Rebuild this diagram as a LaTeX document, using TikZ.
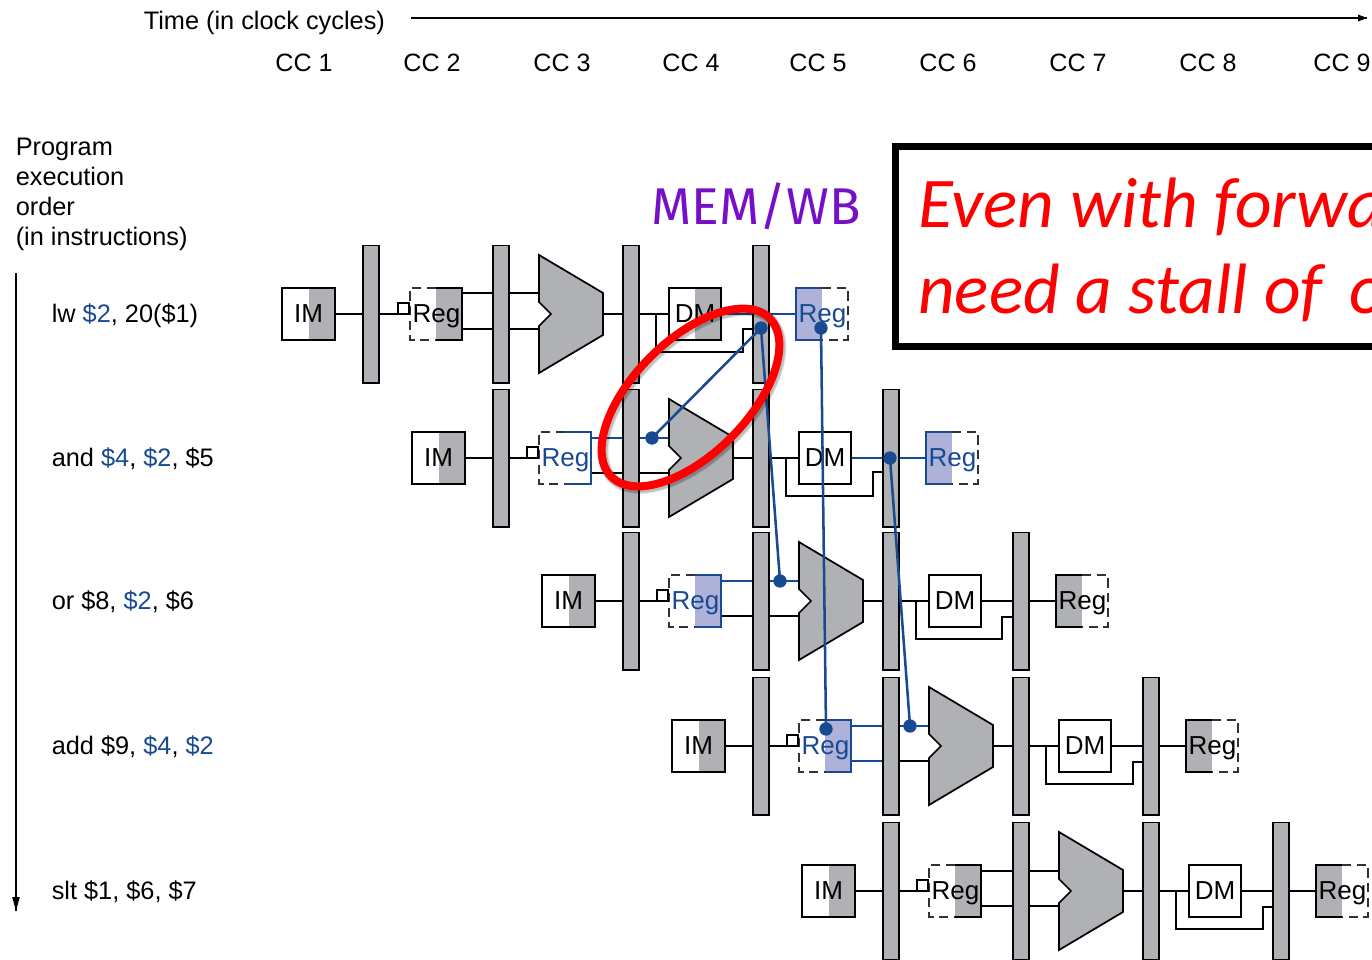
\documentclass[tikz,border=0pt]{standalone}
\usepackage{fontspec}
\setmainfont{Liberation Sans}
\newfontfamily\callout{Carlito}
\newfontfamily\handf{Fira Sans}
\definecolor{bargray}{RGB}{176,177,181}
\definecolor{wireblue}{RGB}{24,74,146}
\definecolor{regblue}{RGB}{174,178,216}
\definecolor{memwb}{RGB}{118,16,200}
\definecolor{dashgray}{RGB}{50,50,50}
\tikzset{
  wire/.style={line width=1.9pt,black},
  bwire/.style={line width=1.8pt,wireblue},
  fwd/.style={line width=1.9pt,wireblue},
  outline/.style={draw=black,line width=1.3pt},
  dashline/.style={draw=dashgray,line width=1.2pt,dash pattern=on 7pt off 4pt},
  unit/.style={font=\fontsize{19.5}{22}\selectfont,inner sep=0pt,anchor=base},
  lab/.style={font=\fontsize{19}{22}\selectfont,inner sep=0pt,anchor=base west},
  cclab/.style={font=\fontsize{18.8}{22}\selectfont,inner sep=0pt,anchor=base},
  calloutt/.style={font=\callout\itshape\fontsize{53.5}{60}\selectfont,text=red,inner sep=0pt,anchor=base west},
  dotp/.style={circle,fill=wireblue,draw=none,minimum size=10pt,inner sep=0pt},
}
\newcommand{\pbar}[2]{\path[fill=bargray,outline] (#1,#2-68.5) rectangle ++(16,137.5);}
\newcommand{\imbox}[3]{%
  \path[fill=bargray] (#1+27,#2-26) rectangle (#1+53,#2+26);
  \draw[outline] (#1,#2-26) rectangle (#1+53,#2+26);
  \node[unit] (#3) at (#1+26.5,#2+8.5) {IM};}
\newcommand{\regid}[5]{%
  \path[fill=#3] (#1+26,#2-26) rectangle (#1+52,#2+26);
  \draw[dashline] (#1+26,#2-26) -- (#1,#2-26) -- (#1,#2+26) -- (#1+26,#2+26);
  \draw[draw=#4,line width=1.3pt] (#1+26,#2-26) -- (#1+52,#2-26) -- (#1+52,#2+26) -- (#1+26,#2+26);
  \draw[outline] (#1,#2) -- (#1-12,#2) -- (#1-12,#2-11) -- (#1-1,#2-11) -- (#1-1,#2);
  \node[unit,text=#4] (#5) at (#1+26.5,#2+8.5) {Reg};}
\newcommand{\regwb}[5]{%
  \path[fill=#3] (#1,#2-26) rectangle (#1+26,#2+26);
  \draw[dashline] (#1+26,#2-26) -- (#1+52,#2-26) -- (#1+52,#2+26) -- (#1+26,#2+26);
  \draw[draw=#4,line width=1.3pt] (#1+26,#2-26) -- (#1,#2-26) -- (#1,#2+26) -- (#1+26,#2+26);
  \node[unit,text=#4] (#5) at (#1+26.5,#2+8.5) {Reg};}
\newcommand{\dmbox}[3]{%
  \draw[outline,fill=white] (#1,#2-26) rectangle (#1+52,#2+26);
  \node[unit] (#3) at (#1+26,#2+8.5) {DM};}
\newcommand{\alu}[3]{%
  \draw[outline,fill=bargray,line join=miter] (#1,#2-59) -- (#1+64,#2-21) -- (#1+64,#2+21) -- (#1,#2+59) -- (#1,#2+12) -- (#1+12,#2) -- (#1,#2-12) -- cycle;
  \coordinate (#3) at (#1+32,#2);}
\begin{document}
\begin{tikzpicture}[x=0.75pt,y=-0.75pt]
\useasboundingbox (0,0) rectangle (1372,960);
\begin{scope}
\clip (0,0) rectangle (1372,960);

% --- axis and headings
\node[lab] (tlabel) at (143.5,29) {Time (in clock cycles)};
\coordinate (tstart) at (411,18);
\coordinate (tend) at (1367,18);
\draw[line width=0.9pt] (tstart) -- (tend);
\path[fill=black] (1367,18) -- (1358,14.5) -- (1358,21.5) -- cycle;
\foreach \nm/\x/\t in {c1/304/CC 1,c2/432/CC 2,c3/562/CC 3,c4/691/CC 4,c5/818/CC 5,c6/948/CC 6,c7/1078/CC 7,c8/1208/CC 8,c9/1342/CC 9}
  \node[cclab] (\nm) at (\x,71) {\t};
\node[lab] (p1) at (15.5,155) {Program};
\node[lab] (p2) at (15.5,185) {execution};
\node[lab] (p3) at (15.5,215) {order};
\node[lab] (p4) at (15.5,245) {(in instructions)};
\coordinate (oa) at (16,273);
\coordinate (ob) at (16,911);
\draw[line width=0.9pt] (oa) -- (ob);
\path[fill=black] (16,911) -- (12.2,897) -- (19.8,897) -- cycle;

\newcommand{\bl}[1]{\textcolor{wireblue}{#1}}
\node[lab] (i1) at (51.5,322) {lw \bl{\$2}, 20(\$1)};
\node[lab] (i2) at (51.5,466) {and \bl{\$4}, \bl{\$2}, \$5};
\node[lab] (i3) at (51.5,609) {or \$8, \bl{\$2}, \$6};
\node[lab] (i4) at (51.5,754) {add \$9, \bl{\$4}, \bl{\$2}};
\node[lab] (i5) at (51.5,899) {slt \$1, \$6, \$7};

% --- row 1
\draw[wire] (335,314) -- (410,314);
\draw[wire] (462,293) -- (539,293);
\draw[wire] (462,329) -- (539,329);
\draw[wire] (603,314) -- (669,314);
\draw[wire] (656,314) -- (656,352) -- (743,352) -- (743,329) -- (761,329);
\draw[bwire] (721,314) -- (796,314);
\pbar{363}{314}\pbar{493}{314}\pbar{623}{314}\pbar{753}{314}
\imbox{282}{314}{im1}
\regid{410}{314}{bargray}{black}{rid1}
\alu{539}{314}{alu1}
\path[fill=bargray] (695,288) rectangle (721,340);
\draw[outline] (669,288) rectangle (721,340);
\node[unit] (dm1) at (695,322.5) {DM};
\regwb{796}{314}{regblue}{wireblue}{rwb1}

% --- row 2
\draw[wire] (465,458) -- (539,458);
\draw[bwire] (591,438) -- (669,438);
\draw[wire] (591,473) -- (669,473);
\draw[wire] (733,458) -- (799,458);
\draw[wire] (786,458) -- (786,496) -- (873,496) -- (873,472) -- (890,472);
\draw[bwire] (851,458) -- (926,458);
\pbar{493}{458}\pbar{623}{458}\pbar{753}{458}\pbar{883}{458}
\imbox{412}{458}{im2}
\regid{539}{458}{white}{wireblue}{rid2}
\alu{669}{458}{alu2}
\dmbox{799}{458}{dm2}
\regwb{926}{458}{regblue}{wireblue}{rwb2}

% --- row 3
\draw[wire] (595,601) -- (669,601);
\draw[bwire] (721,581) -- (799,581);
\draw[wire] (721,616) -- (799,616);
\draw[wire] (863,601) -- (929,601);
\draw[wire] (916,601) -- (916,639) -- (1002,639) -- (1002,617) -- (1020,617);
\draw[wire] (981,601) -- (1056,601);
\pbar{623}{601}\pbar{753}{601}\pbar{883}{601}\pbar{1013}{601}
\imbox{542}{601}{im3}
\regid{669}{601}{regblue}{wireblue}{rid3}
\alu{799}{601}{alu3}
\dmbox{929}{601}{dm3}
\regwb{1056}{601}{bargray}{black}{rwb3}

% --- row 4
\draw[wire] (725,746) -- (799,746);
\draw[bwire] (851,726) -- (929,726);
\draw[bwire] (851,761) -- (883,761);
\draw[wire] (899,761) -- (929,761);
\draw[wire] (993,746) -- (1059,746);
\draw[wire] (1046,746) -- (1046,784) -- (1133,784) -- (1133,762) -- (1150,762);
\draw[wire] (1111,746) -- (1186,746);
\pbar{753}{746}\pbar{883}{746}\pbar{1013}{746}\pbar{1143}{746}
\imbox{672}{746}{im4}
\regid{799}{746}{regblue}{wireblue}{rid4}
\alu{929}{746}{alu4}
\dmbox{1059}{746}{dm4}
\regwb{1186}{746}{bargray}{black}{rwb4}

% --- row 5
\draw[wire] (855,891) -- (929,891);
\draw[wire] (981,871) -- (1059,871);
\draw[wire] (981,906) -- (1059,906);
\draw[wire] (1123,891) -- (1189,891);
\draw[wire] (1176,891) -- (1176,929) -- (1263,929) -- (1263,907) -- (1280,907);
\draw[wire] (1241,891) -- (1316,891);
\pbar{883}{891}\pbar{1013}{891}\pbar{1143}{891}\pbar{1273}{891}
\imbox{802}{891}{im5}
\regid{929}{891}{bargray}{black}{rid5}
\alu{1059}{891}{alu5}
\dmbox{1189}{891}{dm5}
\regwb{1316}{891}{bargray}{black}{rwb5}

% --- forwarding paths
\node[dotp] (f1) at (761,328) {};
\node[dotp] (f2) at (821,328) {};
\node[dotp] (f3) at (652,438) {};
\node[dotp] (f4) at (780,581) {};
\node[dotp] (f5) at (826,729) {};
\node[dotp] (f6) at (890,458) {};
\node[dotp] (f7) at (910,726) {};
\draw[fwd] (f1.center) -- (f3.center);
\draw[fwd] (f1.center) -- (f4.center);
\draw[fwd] (f2.center) -- (f5.center);
\draw[fwd] (f6.center) -- (f7.center);

% --- red ellipse with soft shadow
\foreach \w/\o in {8.5/0.07,7.5/0.09,6.5/0.12}
  \draw[black,opacity=\o,line width=\w pt,rotate around={45:(692,399.5)}] (692,399.5) ellipse [x radius=112,y radius=57];
\draw[red,line width=6pt,rotate around={45:(690.5,397.5)}] (690.5,397.5) ellipse [x radius=112,y radius=57];

% --- call-out
\node[font=\handf\fontsize{38.8}{44}\selectfont,text=memwb,inner sep=0pt,anchor=base] (mw) at (756,224) {MEM/WB};
\draw[line width=5.25pt,fill=white] (895.5,146.5) rectangle (1400,346.5);
\node[calloutt] (c1) at (918,227) {Even with forwa};
\node[calloutt] (c2) at (918,313) {need a stall of\hspace{8pt} o};
\end{scope}
\end{tikzpicture}
\end{document}
